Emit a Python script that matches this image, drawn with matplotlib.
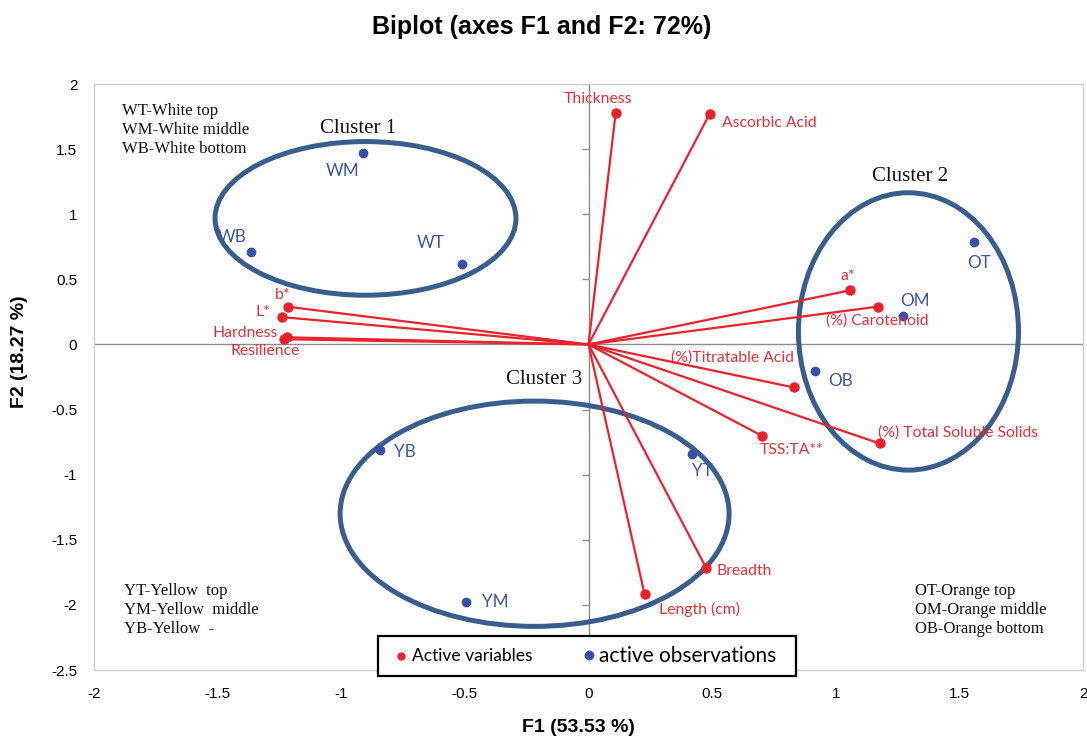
import matplotlib
matplotlib.use("Agg")
import matplotlib.pyplot as plt
from matplotlib.patches import Ellipse, Rectangle
from matplotlib.lines import Line2D

# ---------------- data ----------------
var_names = ["Thickness", "Ascorbic Acid", "a*", "(%) Carotenoid", "(%)Titratable Acid",
             "TSS:TA**", "(%) Total Soluble Solids", "Breadth", "Length (cm)",
             "b*", "L*", "Hardness", "Resilience"]
var_f1 = [0.11, 0.49, 1.056, 1.169, 0.83, 0.70, 1.177, 0.477, 0.227,
          -1.217, -1.24, -1.22, -1.23]
var_f2 = [1.78, 1.77, 0.415, 0.29, -0.33, -0.70, -0.76, -1.72, -1.92,
          0.29, 0.21, 0.055, 0.04]

obs_names = ["WM", "WB", "WT", "OT", "OM", "OB", "YT", "YB", "YM"]
obs_f1 = [-0.914, -1.367, -0.51, 1.561, 1.27, 0.918, 0.417, -0.845, -0.497]
obs_f2 = [1.467, 0.707, 0.614, 0.79, 0.215, -0.207, -0.845, -0.814, -1.98]

cluster_names = ["Cluster 1", "Cluster 2", "Cluster 3"]
cluster_cx = [-0.902, 1.294, -0.218]
cluster_cy = [0.968, 0.10, -1.30]
cluster_w = [1.217, 0.89, 1.573]
cluster_h = [1.18, 2.13, 1.73]

x_ticks = [-2, -1.5, -1, -0.5, 0, 0.5, 1, 1.5, 2]
y_ticks = [-2.5, -2, -1.5, -1, -0.5, 0, 0.5, 1, 1.5, 2]

# ---------------- label placement (pixels) ----------------
var_label_pos = {
    "Thickness": ((-18, 7), "center", "bottom"),
    "Ascorbic Acid": ((12, -9), "left", "center"),
    "a*": ((-2, 7), "center", "bottom"),
    "(%) Carotenoid": ((0, -14), "center", "center"),
    "(%)Titratable Acid": ((-61, 30), "center", "center"),
    "TSS:TA**": ((30, -14), "center", "center"),
    "(%) Total Soluble Solids": ((-2, 11), "left", "center"),
    "Breadth": ((10, -3), "left", "center"),
    "Length (cm)": ((14, -15), "left", "center"),
    "b*": ((-5, 12), "center", "center"),
    "L*": ((-12, 5), "right", "center"),
    "Hardness": ((-9, 4), "right", "center"),
    "Resilience": ((-19, -12), "center", "center"),
}
obs_label_pos = {
    "WM": (-20, -18), "WB": (-18, 15), "WT": (-32, 21), "OT": (5, -21),
    "OM": (13, 15), "OB": (25, -10), "YT": (11, -17), "YB": (25, -2), "YM": (30, 0),
}
cluster_label_pos = [(-0.93, 1.66), (1.30, 1.29), (-0.18, -0.27)]

RED = "#E8232B"
RED_TXT = "#E0303A"
BLUE = "#3A4FA8"
BLUE_TXT = "#3F55A5"
ELL = "#3A5E8C"

sans_lbl = ["Lato", "DejaVu Sans"]
serif = ["Liberation Serif", "DejaVu Serif"]

fig = plt.figure(figsize=(10.87, 7.40), dpi=100)
ax = fig.add_axes([94 / 1087, 70 / 740, 989 / 1087, 586 / 740])
ax.set_xlim(-2, 2)
ax.set_ylim(-2.5, 2)

for s in ax.spines.values():
    s.set_color("#CFCFCF")
    s.set_linewidth(1)

ax.set_xticks(x_ticks)
ax.set_yticks(y_ticks)
ax.set_xticklabels([f"{t:g}" for t in x_ticks], fontsize=11, family="Liberation Sans")
ax.set_yticklabels([f"{t:g}" for t in y_ticks], fontsize=11, family="Liberation Sans")
ax.tick_params(length=0, pad=12)

# zero axes
ax.axhline(0, color="#8C8C8C", lw=1, zorder=1)
ax.axvline(0, color="#8C8C8C", lw=1, zorder=1)
ax.plot([0] * len(y_ticks), y_ticks, ls="none", marker=0, ms=5, color="#8C8C8C", mew=1, zorder=1)

# clusters
for name, cx, cy, w, h, (lx, ly) in zip(cluster_names, cluster_cx, cluster_cy, cluster_w, cluster_h, cluster_label_pos):
    ax.add_patch(Ellipse((cx, cy), w, h, fill=False, edgecolor=ELL, lw=3.6, zorder=2))
    ax.text(lx, ly, name, family=serif, fontsize=15, ha="center", va="center", color="#111111")

# variable vectors
for n, x, y in zip(var_names, var_f1, var_f2):
    ax.plot([0, x], [0, y], color=RED, lw=1.6, zorder=3)
ax.plot(var_f1, var_f2, ls="none", marker="o", ms=6.5, color=RED, zorder=4)
for n, x, y in zip(var_names, var_f1, var_f2):
    (dx, dy), ha, va = var_label_pos[n]
    ax.annotate(n, (x, y), xytext=(dx, dy), textcoords="offset pixels",
                ha=ha, va=va, color=RED_TXT, fontsize=11.3, family=sans_lbl, zorder=5)

# observations
ax.plot(obs_f1, obs_f2, ls="none", marker="o", ms=6, color=BLUE, zorder=4)
for n, x, y in zip(obs_names, obs_f1, obs_f2):
    dx, dy = obs_label_pos[n]
    ax.annotate(n, (x, y), xytext=(dx, dy), textcoords="offset pixels",
                ha="center", va="center", color=BLUE_TXT, fontsize=12.3, family=sans_lbl, zorder=5)

# key texts
ax.text(0.028, 0.968, "WT-White top\nWM-White middle\nWB-White bottom", transform=ax.transAxes,
        family=serif, fontsize=12, va="top", ha="left", linespacing=1.25, color="#111111")
ax.text(0.030, 0.148, "YT-Yellow  top\nYM-Yellow  middle\nYB-Yellow  -", transform=ax.transAxes,
        family=serif, fontsize=12, va="top", ha="left", linespacing=1.25, color="#111111")
ax.text(0.830, 0.148, "OT-Orange top\nOM-Orange middle\nOB-Orange bottom", transform=ax.transAxes,
        family=serif, fontsize=12, va="top", ha="left", linespacing=1.25, color="#111111")

# custom legend box (figure pixel coords)
H = 740.0
W = 1087.0
fig.patches.append(Rectangle((378 / W, (H - 676) / H), (796 - 378) / W, 40 / H,
                             transform=fig.transFigure, facecolor="white",
                             edgecolor="black", lw=1.6, zorder=10))
fig.add_artist(Line2D([401 / W], [(H - 656) / H], marker="o", ms=5, color=RED,
                      transform=fig.transFigure, zorder=11))
fig.text(412 / W, (H - 656) / H, "Active variables", fontsize=12.5, family=sans_lbl,
         va="center", ha="left", zorder=11)
fig.add_artist(Line2D([589 / W], [(H - 655) / H], marker="o", ms=6, color=BLUE,
                      transform=fig.transFigure, zorder=11))
fig.text(599 / W, (H - 656) / H, "active observations", fontsize=15, family=sans_lbl,
         va="center", ha="left", zorder=11)

# titles
fig.text(542 / W, (H - 27) / H, "Biplot (axes F1 and F2: 72%)", fontsize=18, fontweight="bold",
         family="Liberation Sans", ha="center", va="center")
fig.text(578 / W, (H - 728) / H, "F1 (53.53 %)", fontsize=14, fontweight="bold",
         family="Liberation Sans", ha="center", va="center")
fig.text(20 / W, (H - 352) / H, "F2 (18.27 %)", fontsize=14, fontweight="bold",
         family="Liberation Sans", ha="center", va="center", rotation=90)

fig.savefig("out.png", dpi=100)
